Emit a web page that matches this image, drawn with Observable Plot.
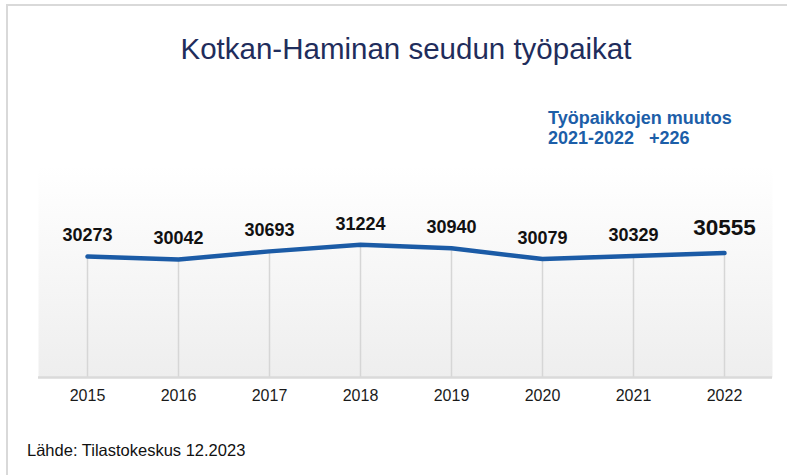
<!DOCTYPE html>
<html>
<head>
<meta charset="utf-8">
<script src="https://cdn.jsdelivr.net/npm/d3@7"></script>
<script src="https://cdn.jsdelivr.net/npm/@observablehq/plot@0.6"></script>
<style>
  html, body { margin: 0; padding: 0; background: #fff; }
  #wrap { position: relative; width: 787px; height: 475px; overflow: hidden; font-family: "Liberation Sans", Arial, sans-serif; }
  #border { position: absolute; left: 6px; top: 4px; right: -10px; bottom: -10px; border-top: 2px solid #d9d9d9; border-left: 2px solid #d9d9d9; }
  #title { position: absolute; left: 0; top: 34px; width: 812px; text-align: center; font-size: 29.5px; line-height: 30px; color: #1f2d5c; }
  #note { position: absolute; left: 548px; top: 108px; font-size: 18px; line-height: 20px; font-weight: bold; color: #1c5ea8; white-space: pre; }
  #chart { position: absolute; left: 0; top: 90px; }
  #source { position: absolute; left: 27px; top: 441px; font-size: 16.5px; line-height: 18px; color: #111; }
</style>
</head>
<body>
<div id="wrap">
  <div id="border"></div>
  <div id="title">Kotkan-Haminan seudun työpaikat</div>
  <div id="note"></div>
  <div id="chart"></div>
  <div id="source">Lähde: Tilastokeskus 12.2023</div>
</div>
<script>
const years = ["2015", "2016", "2017", "2018", "2019", "2020", "2021", "2022"];
const jobs = [30273, 30042, 30693, 31224, 30940, 30079, 30329, 30555];
const noteLines = ["Työpaikkojen muutos", "2021-2022   +226"];

document.getElementById("note").textContent = noteLines.join("\n");

const data = years.map((year, i) => ({year, jobs: jobs[i]}));
const yMin = 20550, yMax = 37600;
const lastYear = years[years.length - 1];

const chart = Plot.plot({
  width: 787,
  height: 330,
  marginLeft: 38,
  marginRight: 15,
  marginTop: 75,
  marginBottom: 43,
  style: {fontFamily: "Liberation Sans, Arial, sans-serif", fontSize: "16px", color: "#222", background: "transparent"},
  x: {type: "point", domain: years, padding: 0.5, label: null},
  y: {domain: [yMin, yMax], axis: null},
  marks: [
    Plot.frame({fill: "url(#bandGrad)", stroke: "none"}),
    Plot.ruleX(data, {x: "year", y1: () => yMin, y2: "jobs", stroke: "#d6d6d6", strokeWidth: 1.5}),
    Plot.ruleY([yMin], {stroke: "#dadada", strokeWidth: 2.5}),
    Plot.line(data, {x: "year", y: "jobs", stroke: "#1b5ba6", strokeWidth: 4.5, strokeLinecap: "round", strokeLinejoin: "round"}),
    Plot.text(data.filter(d => d.year !== lastYear), {x: "year", y: "jobs", text: d => String(d.jobs), dy: -21, fontSize: 18, fontWeight: "bold", fill: "#111"}),
    Plot.text(data.filter(d => d.year === lastYear), {x: "year", y: "jobs", text: d => String(d.jobs), dy: -25, fontSize: 22.5, fontWeight: "bold", fill: "#111"}),
    Plot.axisX({tickSize: 0, tickPadding: 12, fontSize: 16, fill: "#1a1a1a", label: null})
  ]
});

const svg = d3.select(chart);
const defs = svg.insert("defs", ":first-child");
const grad = defs.append("linearGradient").attr("id", "bandGrad").attr("x1", 0).attr("y1", 0).attr("x2", 0).attr("y2", 1);
grad.append("stop").attr("offset", "0%").attr("stop-color", "#ffffff");
grad.append("stop").attr("offset", "100%").attr("stop-color", "#eeeeee");

document.getElementById("chart").appendChild(chart);
</script>
</body>
</html>
